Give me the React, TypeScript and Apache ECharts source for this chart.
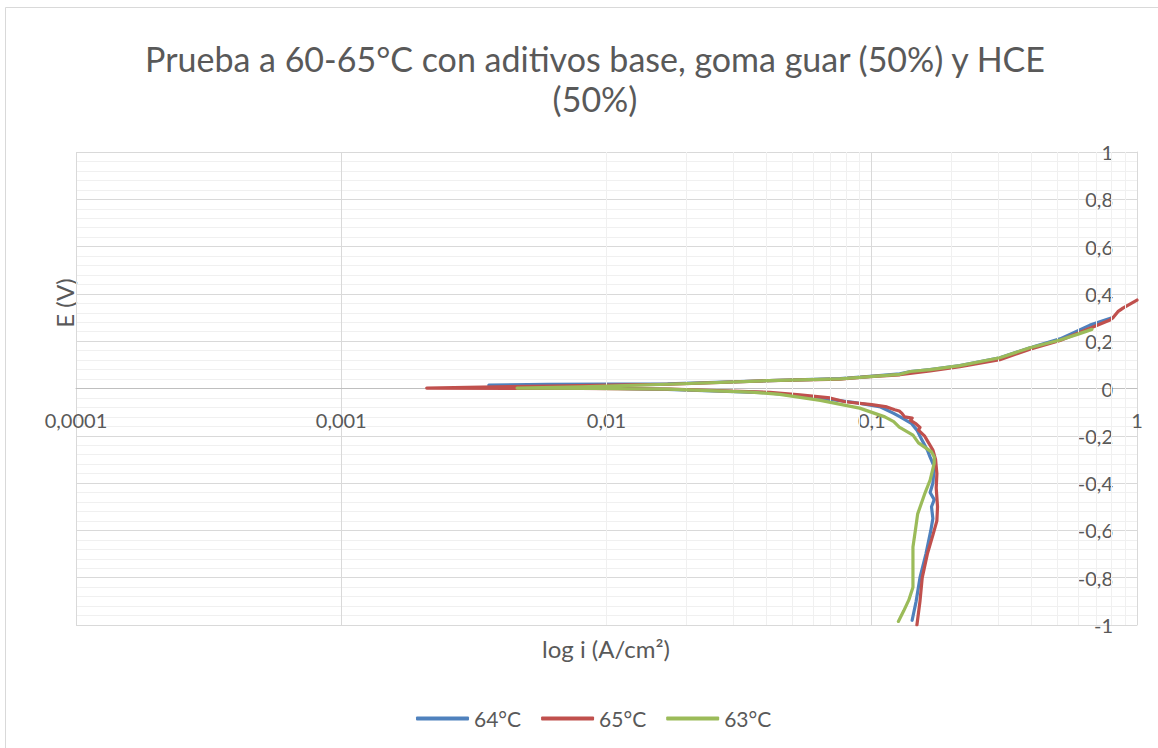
import React, { useEffect, useRef } from "react";
import * as echarts from "echarts";

const TITLE = "Prueba a 60-65°C con aditivos base, goma guar (50%) y HCE\n(50%)";
const X_NAME = "log i (A/cm²)";
const Y_NAME = "E (V)";
const SERIES_NAMES = ["64°C", "65°C", "63°C"];
const COLORS = ["#4F81BD", "#C0504D", "#9BBB59"];

// 64°C
const I64 = [0.142, 0.147, 0.152, 0.160, 0.167, 0.170, 0.168, 0.172, 0.166, 0.170, 0.172, 0.166, 0.162, 0.155, 0.148, 0.141, 0.128, 0.121, 0.108, 0.085, 0.068, 0.052, 0.040, 0.017, 0.008, 0.0036, 0.006, 0.017, 0.041, 0.076, 0.0985, 0.1276, 0.14, 0.166, 0.215, 0.304, 0.395, 0.513, 0.665, 0.81];
const E64 = [-0.98, -0.9, -0.8, -0.7, -0.6, -0.55, -0.5, -0.47, -0.44, -0.4, -0.33, -0.29, -0.26, -0.22, -0.176, -0.147, -0.12, -0.105, -0.078, -0.058, -0.045, -0.03, -0.018, -0.004, 0.004, 0.014, 0.018, 0.02, 0.033, 0.042, 0.051, 0.062, 0.072, 0.08, 0.097, 0.13, 0.172, 0.21, 0.268, 0.3];

// 65°C
const I65 = [0.148, 0.152, 0.155, 0.162, 0.170, 0.176, 0.177, 0.175, 0.176, 0.174, 0.170, 0.163, 0.158, 0.150, 0.152, 0.147, 0.140, 0.142, 0.133, 0.130, 0.127, 0.122, 0.114, 0.1, 0.0793, 0.0696, 0.0536, 0.0413, 0.0174, 0.008, 0.0021, 0.003, 0.006, 0.012, 0.0174, 0.0413, 0.0759, 0.0985, 0.1276, 0.166, 0.215, 0.304, 0.395, 0.513, 0.665, 0.791, 0.81, 0.847, 0.885, 1.0];
const E65 = [-1.0, -0.9, -0.8, -0.7, -0.62, -0.56, -0.5, -0.42, -0.36, -0.3, -0.26, -0.226, -0.2, -0.176, -0.165, -0.15, -0.135, -0.125, -0.12, -0.105, -0.095, -0.09, -0.078, -0.068, -0.056, -0.04, -0.027, -0.016, -0.003, 0.0, 0.002, 0.005, 0.01, 0.015, 0.018, 0.033, 0.04, 0.05, 0.058, 0.074, 0.092, 0.122, 0.166, 0.203, 0.255, 0.29, 0.298, 0.325, 0.34, 0.374];

// 63°C
const I63 = [0.126, 0.132, 0.138, 0.143, 0.143, 0.143, 0.146, 0.149, 0.159, 0.166, 0.172, 0.172, 0.168, 0.15, 0.143, 0.127, 0.121, 0.112, 0.090, 0.064, 0.045, 0.035, 0.017, 0.009, 0.0046, 0.008, 0.017, 0.041, 0.076, 0.0985, 0.1276, 0.14, 0.166, 0.215, 0.304, 0.395, 0.513, 0.6, 0.676];
const E63 = [-0.985, -0.94, -0.894, -0.84, -0.75, -0.67, -0.6, -0.53, -0.44, -0.387, -0.316, -0.29, -0.268, -0.23, -0.197, -0.163, -0.14, -0.12, -0.083, -0.05, -0.025, -0.015, -0.003, 0.0, 0.002, 0.007, 0.018, 0.033, 0.041, 0.05, 0.06, 0.072, 0.08, 0.097, 0.13, 0.172, 0.205, 0.23, 0.25];

const X_MINOR = [2, 3, 4, 5, 6, 7, 8, 9];
const X_DECADES = [0.0001, 0.001, 0.01, 0.1];

const FONT = "Lato, 'Open Sans', sans-serif";
const TXT = "#595959";

function zip(a: number[], b: number[]) {
  return a.map((v, k) => [v, b[k]]);
}

function fmtNum(v: number) {
  const r = Math.round(v * 10000) / 10000;
  return String(r).replace(".", ",");
}

const GRID_TOP = 152;
const GRID_BOTTOM = 123;
const CHART_H = 748;

export default function App() {
  const ref = useRef<HTMLDivElement>(null);
  useEffect(() => {
    if (!ref.current) return;
    const chart = echarts.init(ref.current, null, { renderer: "svg" });
    const minorLines: any[] = [];
    X_DECADES.forEach((d) => X_MINOR.forEach((m) => minorLines.push({ xAxis: d * m })));
    const dataSets = [zip(I64, E64), zip(I65, E65), zip(I63, E63)];
    // move the x axis up to the E = 0 line (half of the plot height, y range is symmetric)
    const plotH = CHART_H - GRID_TOP - GRID_BOTTOM;
    chart.setOption({
      animation: false,
      backgroundColor: "#ffffff",
      title: {
        text: TITLE,
        left: 590,
        top: 33,
        textAlign: "center",
        textStyle: { fontFamily: FONT, fontSize: 34, fontWeight: "normal", color: TXT, lineHeight: 40 },
      },
      legend: {
        data: SERIES_NAMES,
        left: 411,
        top: 703,
        icon: "roundRect",
        itemWidth: 53,
        itemHeight: 4,
        itemGap: 20,
        textStyle: { fontFamily: FONT, fontSize: 21, color: TXT },
      },
      grid: { left: 76, right: 21, top: GRID_TOP, bottom: GRID_BOTTOM, containLabel: false },
      xAxis: {
        type: "log",
        logBase: 10,
        min: 0.0001,
        max: 1,
        offset: -plotH / 2,
        axisLine: { onZero: false, lineStyle: { color: "#bfbfbf", width: 1 } },
        axisTick: { show: false },
        axisLabel: {
          margin: 21,
          fontFamily: FONT,
          fontSize: 20,
          color: TXT,
          showMinLabel: true,
          showMaxLabel: true,
          formatter: (v: number) => fmtNum(v),
        },
        splitLine: { show: true, lineStyle: { color: "#d9d9d9", width: 1 } },
      },
      yAxis: {
        type: "value",
        position: "right",
        min: -1,
        max: 1,
        interval: 0.2,
        axisLine: { show: true, onZero: false, lineStyle: { color: "#d9d9d9", width: 1 } },
        axisTick: { show: false },
        minorTick: { show: false, splitNumber: 5 },
        minorSplitLine: { show: true, lineStyle: { color: "#f0f0f0", width: 1 } },
        axisLabel: {
          inside: true,
          margin: 24,
          fontFamily: FONT,
          fontSize: 20,
          color: TXT,
          formatter: (v: number) => fmtNum(Math.round(v * 10) / 10),
        },
        splitLine: { show: true, lineStyle: { color: "#d9d9d9", width: 1 } },
      },
      graphic: [
        {
          type: "rect",
          shape: { x: 5.5, y: 7.5, width: 1200, height: 800 },
          style: { fill: "none", stroke: "#d9d9d9", lineWidth: 1 },
          silent: true,
          z: -10,
        },
        {
          type: "text",
          x: 64,
          y: 303,
          rotation: Math.PI / 2,
          style: { text: Y_NAME, fontFamily: FONT, fontSize: 24, fill: TXT, align: "center", verticalAlign: "middle" },
        },
        {
          type: "text",
          x: 606,
          y: 648,
          style: { text: X_NAME, fontFamily: FONT, fontSize: 24, fill: TXT, align: "center", verticalAlign: "middle" },
        },
      ],
      series: [
        {
          name: "minor-grid",
          type: "line",
          data: [],
          silent: true,
          z: 0,
          markLine: {
            silent: true,
            symbol: ["none", "none"],
            label: { show: false },
            lineStyle: { color: "#f0f0f0", width: 1, type: "solid" },
            data: minorLines,
            animation: false,
          },
        },
        ...SERIES_NAMES.map((name, k) => ({
          name,
          type: "line",
          data: dataSets[k],
          showSymbol: false,
          symbol: "none",
          clip: true,
          color: COLORS[k],
          lineStyle: { color: COLORS[k], width: 3.2, cap: "round", join: "round" },
          z: 3 + k,
        })),
      ],
    });
    return () => chart.dispose();
  }, []);
  return <div ref={ref} style={{ position: "fixed", left: 0, top: 0, width: 1158, height: 748 }} />;
}
